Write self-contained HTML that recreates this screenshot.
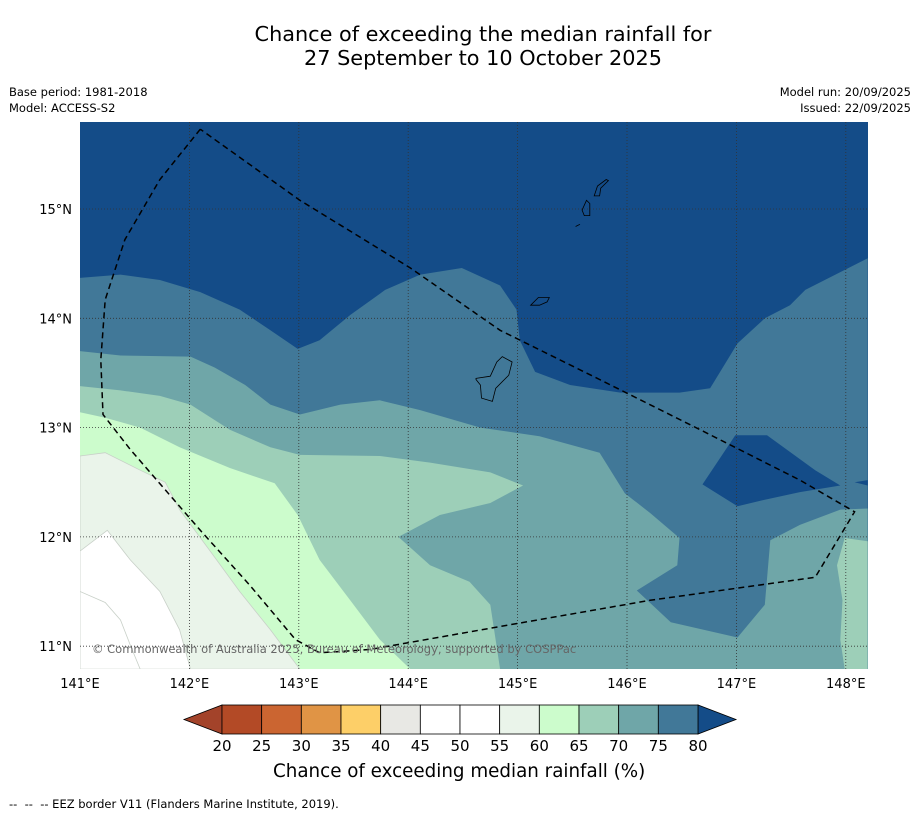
<!DOCTYPE html>
<html><head><meta charset="utf-8"><style>
body{margin:0;background:#fff;font-family:"DejaVu Sans","Liberation Sans",sans-serif;}
.t{position:absolute;color:#000;white-space:nowrap}
</style></head><body>
<div style="position:relative;width:919px;height:816px;overflow:hidden">
<div class="t" style="left:0;width:966px;top:22px;text-align:center;font-size:20.8px;line-height:24px">Chance of exceeding the median rainfall for<br>27 September to 10 October 2025</div>
<div class="t" style="left:9px;top:85px;font-size:11.5px">Base period: 1981-2018</div>
<div class="t" style="left:9px;top:101px;font-size:11.5px">Model: ACCESS-S2</div>
<div class="t" style="right:8px;top:85px;font-size:11.5px;text-align:right">Model run: 20/09/2025</div>
<div class="t" style="right:8px;top:101px;font-size:11.5px;text-align:right">Issued: 22/09/2025</div>
<svg id="map" width="919" height="816" style="position:absolute;left:0;top:0"></svg>
<div class="t" style="left:273px;top:761px;font-size:18.3px">Chance of exceeding median rainfall (%)</div>
<div class="t" style="left:9px;top:797px;font-size:11.5px">-- &nbsp;-- &nbsp;-- EEZ border V11 (Flanders Marine Institute, 2019).</div>
</div>
<script>
const lonTicks=[141,142,143,144,145,146,147,148];
const latTicks=[11,12,13,14,15];
const cbLevels=[20,25,30,35,40,45,50,55,60,65,70,75,80];
const cbColors=["#b34a26","#cb6531","#e09445","#fdcf68","#e8e8e4","#ffffff","#ffffff","#eaf4ea","#ccfccc","#9dcfb8","#6fa6a8","#417898"];
const underColor="#a3432a", overColor="#144c88";
const band75=[[141,14.37],[141.37,14.40],[141.73,14.35],[142.10,14.24],[142.46,14.08],[142.74,13.89],[142.99,13.72],[143.19,13.80],[143.47,14.03],[143.79,14.26],[144.11,14.40],[144.49,14.46],[144.84,14.30],[144.99,14.08],[145.02,13.80],[145.16,13.51],[145.48,13.39],[145.94,13.32],[146.48,13.32],[146.76,13.36],[147.01,13.77],[147.26,14.00],[147.49,14.12],[147.63,14.26],[148.20,14.55],[148.2,10.79],[141,10.79]];
const dark80=[[146.69,12.48],[146.99,12.93],[147.28,12.93],[147.72,12.61],[147.95,12.47],[147.58,12.41],[147.26,12.34],[147.01,12.28]];
const dark80b=[[148.08,12.50],[148.2,12.52],[148.2,12.47]];
const band70=[[141,13.70],[141.37,13.66],[142.01,13.65],[142.23,13.55],[142.51,13.39],[142.74,13.21],[143.01,13.12],[143.38,13.21],[143.74,13.25],[144.11,13.16],[144.66,13.00],[145.20,12.92],[145.75,12.77],[145.98,12.40],[146.21,12.22],[146.48,11.99],[146.46,11.74],[146.09,11.51],[146.40,11.22],[147.01,11.08],[147.26,11.38],[147.31,11.97],[147.58,12.11],[147.95,12.25],[148.2,12.26],[148.2,10.79],[141,10.79]];
const band65R=[[148.2,11.96],[147.99,11.99],[147.92,11.74],[147.97,11.42],[147.95,11.06],[147.99,10.79],[148.2,10.79]];
const band65=[[141,13.38],[141.37,13.34],[141.73,13.29],[142.01,13.21],[142.37,12.98],[142.74,12.82],[143.01,12.75],[143.74,12.74],[144.20,12.68],[144.75,12.59],[145.05,12.47],[144.75,12.31],[144.29,12.20],[143.91,12.00],[144.20,11.74],[144.56,11.59],[144.75,11.38],[144.84,10.79],[141,10.79]];
const band60=[[141,13.14],[141.23,13.09],[141.55,13.00],[141.91,12.82],[142.37,12.63],[142.78,12.49],[142.99,12.20],[143.19,11.79],[143.47,11.42],[143.74,11.06],[144.02,10.79],[141,10.79]];
const band55=[[141,12.74],[141.23,12.77],[141.55,12.61],[141.78,12.50],[141.91,12.25],[142.19,11.87],[142.46,11.50],[142.74,11.15],[143.01,10.79],[141,10.79]];
const band50=[[141,11.87],[141.25,12.06],[141.46,11.79],[141.73,11.50],[141.91,11.15],[142.01,10.79],[141,10.79]];
const band45=[[141,11.50],[141.23,11.40],[141.37,11.24],[141.46,11.01],[141.55,10.79],[141,10.79]];
const islands=[
[[145.70,15.12],[145.73,15.21],[145.81,15.27],[145.83,15.26],[145.76,15.19],[145.75,15.12]],
[[145.59,14.99],[145.63,15.08],[145.66,15.05],[145.66,14.94],[145.61,14.94]],
[[145.53,14.84],[145.57,14.86],[145.55,14.85]],
[[145.12,14.12],[145.19,14.19],[145.29,14.19],[145.27,14.15],[145.20,14.12]],
[[144.62,13.45],[144.75,13.47],[144.81,13.60],[144.86,13.65],[144.95,13.60],[144.92,13.48],[144.80,13.36],[144.77,13.24],[144.67,13.27],[144.66,13.39],[144.62,13.44]]];
const eez=[[142.10,15.73],[141.73,15.27],[141.41,14.72],[141.23,14.17],[141.19,13.62],[141.21,13.12],[141.46,12.80],[141.78,12.43],[142.10,12.06],[142.55,11.56],[142.97,11.06],[143.19,10.94],[143.65,10.97],[144.84,11.18],[146.21,11.42],[147.72,11.63],[148.08,12.23],[147.58,12.52],[146.67,12.98],[145.75,13.44],[144.84,13.89],[144.02,14.46],[143.01,15.08],[142.10,15.73]];

const svg=document.getElementById('map');const NS="http://www.w3.org/2000/svg";
const X0=80,X1=868,Y0=122,Y1=669;
const FF="DejaVu Sans, Liberation Sans, sans-serif";
const xs=lon=>80+(lon-141)*109.4, ys=lat=>209+(15-lat)*109.3;
function mk(tag,at,name,parent){const e=document.createElementNS(NS,tag);for(const k in at)e.setAttribute(k,at[k]);


(parent||svg).appendChild(e);return e;}
const pts=a=>a.map(p=>xs(p[0]).toFixed(1)+","+ys(p[1]).toFixed(1)).join(" ");
const cp=mk('clipPath',{id:'cp'},'map-clip');
mk('rect',{x:X0,y:Y0,width:X1-X0,height:Y1-Y0},'map-clip-rect',cp);
const g=mk('g',{'clip-path':'url(#cp)'},'map-area');
mk('rect',{x:X0,y:Y0,width:X1-X0,height:Y1-Y0,fill:overColor},'band-80-plus',g);
const bands=[[band75,cbColors[11],'band-75-80'],[dark80,overColor,'band-80-patch'],[dark80b,overColor,'band-80-patch-edge'],[band70,cbColors[10],'band-70-75'],[band65R,cbColors[9],'band-65-70-east'],[band65,cbColors[9],'band-65-70'],[band60,cbColors[8],'band-60-65'],[band55,cbColors[7],'band-55-60'],[band50,cbColors[6],'band-50-55'],[band45,cbColors[5],'band-45-50']];
bands.forEach(b=>mk('polygon',{points:pts(b[0]),fill:b[1],stroke:(b[1]=="#ffffff"||b[1]=="#eaf4ea")?"#c8d0c8":"none","stroke-width":0.8},b[2],g));
islands.forEach((isl,i)=>mk('polygon',{points:pts(isl),fill:'none',stroke:'#000','stroke-width':0.8},'island-'+i,g));
lonTicks.forEach(l=>{if(l>141)mk('line',{x1:xs(l),x2:xs(l),y1:Y0,y2:Y1,stroke:'#333','stroke-width':0.8,'stroke-dasharray':'1,2'},'gridline-lon-'+l,g);});
latTicks.forEach(l=>mk('line',{x1:X0,x2:X1,y1:ys(l),y2:ys(l),stroke:'#333','stroke-width':0.8,'stroke-dasharray':'1,2'},'gridline-lat-'+l,g));
mk('polyline',{points:pts(eez),fill:'none',stroke:'#000','stroke-width':1.5,'stroke-dasharray':'6,4'},'eez-border',g);
const cpy=mk('text',{x:92,y:653,'font-size':11.5,fill:'#666','font-family':FF},'copyright-note',g);cpy.textContent="© Commonwealth of Australia 2025, Bureau of Meteorology, supported by COSPPac";
lonTicks.forEach(l=>{const t=mk('text',{x:xs(l),y:688,'font-size':13,'text-anchor':'middle','font-family':FF},'x-tick-'+l);t.textContent=l+"°E";});
latTicks.forEach(l=>{const t=mk('text',{x:72,y:ys(l)+5,'font-size':13,'text-anchor':'end','font-family':FF},'y-tick-'+l);t.textContent=l+"°N";});
const cx0=222,cx1=698,cy0=705,cy1=734;const cw=(cx1-cx0)/cbColors.length;
mk('polygon',{points:`${cx0},${cy0} ${cx0},${cy1} 184,${(cy0+cy1)/2}`,fill:underColor,stroke:'#000','stroke-width':0.8},'colorbar-under');
mk('polygon',{points:`${cx1},${cy0} ${cx1},${cy1} 736,${(cy0+cy1)/2}`,fill:overColor,stroke:'#000','stroke-width':0.8},'colorbar-over');
cbColors.forEach((c,i)=>mk('rect',{x:cx0+i*cw,y:cy0,width:cw,height:cy1-cy0,fill:c,stroke:'#000','stroke-width':0.8},'colorbar-seg-'+cbLevels[i]));
cbLevels.forEach((v,i)=>{const t=mk('text',{x:cx0+i*cw,y:751,'font-size':15,'text-anchor':'middle','font-family':FF},'colorbar-label-'+v);t.textContent=v;});
</script>
</body></html>
